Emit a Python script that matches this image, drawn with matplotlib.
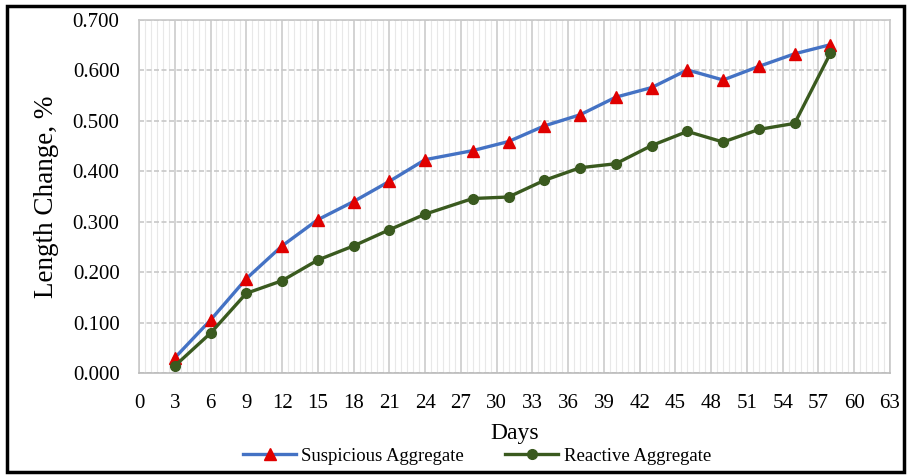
import matplotlib
matplotlib.use("Agg")
import matplotlib.pyplot as plt
from matplotlib.ticker import MultipleLocator, FormatStrFormatter
from matplotlib.patches import Rectangle

plt.rcParams['font.family'] = ['Liberation Serif', 'DejaVu Serif']

days = [3, 6, 9, 12, 15, 18, 21, 24, 28, 31, 34, 37, 40, 43, 46, 49, 52, 55, 58]
suspicious = [0.030, 0.105, 0.187, 0.252, 0.304, 0.340, 0.380, 0.423, 0.441, 0.459,
              0.490, 0.512, 0.547, 0.566, 0.601, 0.581, 0.608, 0.633, 0.651]
reactive = [0.014, 0.079, 0.158, 0.183, 0.224, 0.252, 0.284, 0.315, 0.346, 0.349,
            0.382, 0.407, 0.415, 0.451, 0.479, 0.458, 0.483, 0.495, 0.634]

W, H = 907, 475
fig = plt.figure(figsize=(W / 100, H / 100), dpi=100)
ax = fig.add_axes([139 / W, 1 - 373 / H, (890 - 139) / W, (373 - 20) / H])

ax.plot(days, suspicious, color='#4472C4', lw=2.4, marker='^', markersize=9,
        markerfacecolor='#E00000', markeredgecolor='#E00000', label='Suspicious Aggregate', zorder=3)
ax.plot(days, reactive, color='#3A5A1F', lw=2.4, marker='o', markersize=7,
        markerfacecolor='#3A5A1F', markeredgecolor='#3A5A1F', label='Reactive Aggregate', zorder=3)

ax.set_xlim(0, 63)
ax.set_ylim(0, 0.7)
ax.xaxis.set_major_locator(MultipleLocator(3))
ax.xaxis.set_minor_locator(MultipleLocator(0.5))
ax.yaxis.set_major_locator(MultipleLocator(0.1))
ax.yaxis.set_major_formatter(FormatStrFormatter('%.3f'))

ax.grid(which='major', axis='x', color='#D0D0D0', lw=1.3)
ax.grid(which='minor', axis='x', color='#E8E8E8', lw=0.8)
ax.grid(which='major', axis='y', color='#C8C8C8', lw=1.2, ls=(0, (3, 1.5)))
ax.set_axisbelow(True)

for s in ax.spines.values():
    s.set_color('#C8C8C8')
    s.set_linewidth(1.2)
ax.spines['bottom'].set_color('#BBBBBB')

ax.tick_params(which='both', length=0)
ax.tick_params(axis='x', labelsize=15, pad=15)
ax.tick_params(axis='y', labelsize=15, pad=14)

ax.set_ylabel('Length Change, %', fontsize=19.5, labelpad=10)
fig.text(515 / W, 1 - 433 / H, 'Days', fontsize=17, ha='center', va='center')

fig.legend(loc='center', bbox_to_anchor=(477 / W, 1 - 456 / H), ncol=2, frameon=False,
           fontsize=13.5, handlelength=2.8, columnspacing=2.2, handletextpad=0.3)

fig.patches.append(Rectangle((7 / W, 3 / H), (904 - 7) / W, (469 - 3) / H, transform=fig.transFigure,
                             fill=False, edgecolor='black', lw=2.5))

fig.savefig('out.png', dpi=100)
